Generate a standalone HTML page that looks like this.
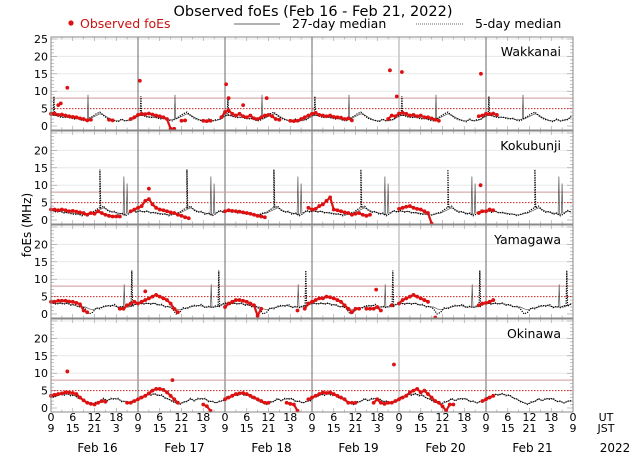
<!DOCTYPE html>
<html><head><meta charset="utf-8"><style>
body{margin:0;background:#fff;width:640px;height:457px;overflow:hidden}
svg{font-family:"DejaVu Sans","Liberation Sans",sans-serif}
</style></head><body>
<svg id="chart" width="640" height="457" viewBox="0 0 640 457" xmlns="http://www.w3.org/2000/svg">
<text x="313" y="16" font-size="14.5" text-anchor="middle">Observed foEs (Feb 16 - Feb 21, 2022)</text>
<g>
<circle cx="71" cy="23" r="2.6" fill="#d11"/>
<text x="80" y="28" font-size="12.5" fill="#c11">Observed foEs</text>
<line x1="234" y1="24" x2="280" y2="24" stroke="#333" stroke-width="0.8"/>
<text x="292" y="28" font-size="12.5">27-day median</text>
<line x1="416" y1="24" x2="463" y2="24" stroke="#333" stroke-width="0.8" stroke-dasharray="1 1"/>
<text x="475" y="28" font-size="12.5">5-day median</text>
</g>
<text transform="translate(31,225) rotate(-90)" font-size="12" text-anchor="middle">foEs (MHz)</text>
<g id="panels"></g>
<g id="xaxis"></g>
</svg>
<script>
const stations = ["Wakkanai","Kokubunji","Yamagawa","Okinawa"];
const dayLabels = ["Feb 16","Feb 17","Feb 18","Feb 19","Feb 20","Feb 21"];
const utTicks = ["0","6","12","18","0","6","12","18","0","6","12","18","0","6","12","18","0","6","12","18","0","6","12","18","0"];
const jstTicks = ["9","15","21","3","9","15","21","3","9","15","21","3","9","15","21","3","9","15","21","3","9","15","21","3","9"];
const yTicks = [0,5,10,15,20,25];
const thresholdSolid = [8,8,8,8];
const thresholdDotted = [5,5,5,5];
const n = null;
const obsWakkanai = [
3.5,3.6,3.2,3.3,3.0,2.8,2.6,2.5,2.2,2.0,1.6,1.8,n,n,n,n,1.8,1.6,n,n,n,n,2.0,2.5,
3.2,3.5,3.4,3.6,3.3,3.0,2.8,2.5,2.0,-0.8,-0.8,n,1.5,1.6,n,n,n,n,1.5,1.4,1.5,n,n,2.5,
4.0,4.5,3.5,3.0,3.5,2.8,2.5,3.0,2.2,2.0,2.5,3.0,3.2,2.8,2.0,1.8,n,n,1.5,1.4,1.5,2.0,2.5,3.0,
3.5,3.8,3.2,3.0,2.8,3.0,2.6,2.5,2.4,2.0,2.2,1.6,n,n,n,n,n,n,n,n,n,2.0,3.0,2.8,
3.6,3.8,3.5,3.0,3.2,2.8,3.0,2.5,2.5,2.2,1.8,1.5,n,n,n,n,n,n,n,n,n,n,2.8,3.0,
3.5,3.4,3.6,3.2,n,n,n,n,n,n,n,n,n,n,n,n,n,n,n,n,n,n,n,n];
const obsKokubunji = [
3.0,3.0,2.8,3.0,2.8,2.5,2.6,2.4,2.2,2.0,1.5,2.0,1.8,2.5,2.0,1.5,1.2,1.0,1.0,1.0,n,n,2.5,3.0,
3.5,4.0,5.5,6.0,4.5,3.5,3.0,2.8,2.5,2.2,2.0,1.5,1.2,0.8,0.5,n,n,n,n,n,n,n,n,n,
2.5,2.8,2.6,2.5,2.4,2.2,2.0,1.8,1.5,1.2,1.0,0.8,n,n,n,n,n,n,n,n,n,n,n,3.5,
3.0,3.2,4.0,4.5,5.5,6.5,3.0,2.8,2.5,2.2,2.0,1.5,1.8,2.0,1.5,1.2,1.5,n,n,n,n,n,n,n,
3.2,3.5,3.8,4.0,3.5,3.2,3.0,2.5,2.0,-1.0,n,n,n,n,n,n,n,n,n,n,n,n,2.0,2.5,
2.5,3.0,2.8,n,n,n,n,n,n,n,n,n,n,n,n,n,n,n,n,n,n,n,n,n];
const obsYamagawa = [
3.5,3.5,3.8,3.8,3.8,3.6,3.5,3.2,2.8,1.0,0.5,n,n,n,n,n,n,n,n,1.5,1.5,2.5,3.0,3.5,
3.0,3.5,4.0,4.5,5.0,5.5,5.0,4.5,4.0,3.0,1.5,0.5,n,n,n,n,n,n,n,n,n,n,n,n,
2.0,3.0,3.5,4.0,4.0,3.8,3.5,3.0,2.5,-0.5,1.5,n,n,n,n,n,n,n,n,n,1.0,n,1.5,3.0,
3.5,4.0,4.5,4.5,5.0,4.8,4.5,4.0,3.5,2.5,1.5,0.5,1.5,1.5,n,1.5,1.5,1.5,2.0,1.0,n,n,2.5,n,
3.0,4.0,4.5,5.0,5.5,5.0,4.5,4.0,3.5,n,-1.0,n,n,n,n,n,n,n,n,n,n,n,2.5,3.0,
3.2,3.5,4.0,n,n,n,n,n,n,n,n,n,n,n,n,n,n,n,n,n,n,n,n,n];
const obsOkinawa = [
3.5,3.8,4.0,4.2,4.5,4.5,4.3,4.0,3.0,2.2,1.5,1.2,1.0,1.5,2.0,1.8,n,n,n,n,n,1.5,1.5,2.0,
2.5,3.0,3.5,4.2,5.0,5.5,5.5,5.2,4.5,3.5,2.5,1.5,n,n,n,n,n,n,1.0,0.5,-0.8,n,n,n,
2.5,3.0,3.5,4.0,4.2,4.3,4.0,3.5,3.0,2.5,2.0,1.5,1.5,n,n,n,n,1.5,1.2,1.0,-0.8,n,n,2.5,
3.0,3.5,4.0,4.5,4.3,4.5,4.0,3.5,3.0,2.5,1.5,1.5,1.5,n,n,n,n,1.5,2.5,1.5,1.2,1.5,1.5,2.0,
2.5,3.0,3.5,4.5,5.0,5.5,4.5,5.0,4.0,3.0,2.0,1.5,0.5,-0.8,1.0,1.0,n,n,n,n,n,n,n,2.0,
2.5,3.0,3.5,n,n,n,n,n,n,n,n,n,n,n,n,n,n,n,n,n,n,n,n,n];
const outlierHours = [[4.5,2,2.7,24.5,48.3,49,53,59.5,93.5,95.4,96.8,118.6],[27,118.5],[26,89.7],[4.5,33.5,94.6]];
const outlierValues = [[11,6,6.5,13,12,8,6,8,16,8.5,15.5,15],[9,10],[6.5,7],[10.5,8,12.5]];
const med27 = [
[3,3,2.8,2.6,2.5,2.4,2.2,2,1.8,1.8,2,2.5,3,3.5,3.2,2.5,2,1.5,1.5,1.8,1.5,1.5,2,2.5],
[2.5,2.5,2.4,2.2,2,2,1.8,1.6,1.5,1.5,1.8,2,2.5,3,3.5,3,2.5,2.2,2,1.8,1.5,2,2.5,2.5],
[3,3,3,3,3,2.8,2.5,2.2,2,2,1.5,1.2,1.5,1.8,2,2.2,2.5,2.3,2,2,2,2,2.5,2.8],
[3,3.5,3.8,4,4,3.8,3.5,3,2.5,2,1.5,1.2,1.5,2,2.5,2.2,2.5,2.8,2.5,2,1.8,1.5,1.8,2.2]];
const med5 = [
[3.2,3,2.6,2.4,2.6,2.2,2.0,2.2,1.6,1.5,2.2,2.8,3.5,4,3,2.2,1.8,1.6,1.2,2,1.4,1.8,1.8,2.8],
[2.8,2.2,2.6,2,2.2,1.8,1.6,1.8,1.2,1.6,2,2.2,3,3.5,4,2.8,2.2,2.5,1.6,2,1.2,1.8,2.8,2.2],
[3.2,2.8,3.2,2.8,3.2,2.5,2.8,2,2.2,1.5,0,0.5,1.8,1.5,2.2,2.5,2.2,2.8,1.8,2.2,1.8,2.4,2.2,3],
[3.2,3.3,4,3.6,4.2,3.5,3.8,2.8,2.6,1.8,1.5,1,1.8,1.8,2.8,2,2.8,2.5,2.8,1.8,2,1.4,2,2]];
const spike27Hours = [[10.2],[20.1,21],[20.2],[]];
const spike27Values = [[9],[12.5,10.5],[8.5],[]];
const spike5Hours = [[0.8],[13.5],[22.3],[]];
const spike5Values = [[8.5],[14.5],[12.5],[]];
const observed = [obsWakkanai,obsKokubunji,obsYamagawa,obsOkinawa];

const NS="http://www.w3.org/2000/svg";
const X0=51, X1=573, DAYW=87, PTOP=37, PH=94, PHH=93, PXU=3.48;
function xs(h){return X0+h*DAYW/24;}
function ys(p,v){return PTOP+p*PH+89-v*PXU;}
function mk(tag,attrs,parent){const e=document.createElementNS(NS,tag);for(const k in attrs)e.setAttribute(k,attrs[k]);parent.appendChild(e);return e;}
const panels=document.getElementById('panels');
stations.forEach((st,p)=>{
  const g=mk('g',{},panels);
  
  
  const top=PTOP+p*PH, bot=top+PHH;
  [10,15,20,25].forEach(v=>{if(ys(p,v)>top+1)mk('line',{x1:X0,x2:X1,y1:ys(p,v),y2:ys(p,v),stroke:'#e8e8e8','stroke-width':1},g);});
  for(let v=-1;v<=25;v++){const y=ys(p,v);if(y<top+1||y>bot-1)continue;const L=(v%5===0)?6:3;
    mk('line',{x1:X0,x2:X0+L,y1:y,y2:y,stroke:'#999','stroke-width':0.6},g);
    mk('line',{x1:X1-L,x2:X1,y1:y,y2:y,stroke:'#999','stroke-width':0.6},g);}
  for(let h=0;h<=144;h+=3){const x=xs(h);const L=(h%6===0)?4:2.5;
    mk('line',{x1:x,x2:x,y1:bot,y2:bot-L,stroke:'#999','stroke-width':0.6},g);
    mk('line',{x1:x,x2:x,y1:top,y2:top+L,stroke:'#999','stroke-width':0.6},g);}
  for(let d=1;d<6;d++){const x=xs(d*24);mk('line',{x1:x,x2:x,y1:top,y2:bot,stroke:d===4?'#c8c8c8':'#6a6a6a','stroke-width':d===4?1.6:1},g);}
  let t=mk('line',{x1:X0,x2:X1,y1:ys(p,thresholdSolid[p]),y2:ys(p,thresholdSolid[p]),stroke:'#c99','stroke-width':1},g);
  
  
  t=mk('line',{x1:X0,x2:X1,y1:ys(p,thresholdDotted[p]),y2:ys(p,thresholdDotted[p]),stroke:'#c22','stroke-width':1,'stroke-dasharray':'1.5 1.5'},g);
  
  
  function medPath(prof,sh,sv){let pts=[];for(let d=0;d<6;d++){let arr=[];prof.forEach((v,h)=>arr.push([d*24+h+0.5,v]));
      sh.forEach((hh,i)=>{arr.push([d*24+hh-0.2,prof[Math.floor(hh)]]);arr.push([d*24+hh,sv[i]]);arr.push([d*24+hh+0.2,prof[Math.floor(hh)]]);});
      arr.sort((a,b)=>a[0]-b[0]);pts=pts.concat(arr);}
    return 'M'+pts.map(q=>xs(q[0]).toFixed(1)+','+ys(p,q[1]).toFixed(1)).join('L');}
  let m=mk('path',{d:medPath(med27[p],spike27Hours[p],spike27Values[p]),fill:'none',stroke:'#555','stroke-width':0.7},g);
  
  
  m=mk('path',{d:medPath(med5[p],spike5Hours[p],spike5Values[p]),fill:'none',stroke:'#000','stroke-width':1.2,'stroke-dasharray':'1.2 1.2'},g);
  
  
  const obs=observed[p];
  for(let i=0;i<obs.length;i++){if(obs[i]===null)continue;
    if(i+1<obs.length&&obs[i+1]!==null){const l=mk('line',{x1:xs(i),y1:ys(p,obs[i]),x2:xs(i+1),y2:ys(p,obs[i+1]),stroke:'#d11','stroke-width':2.2,'stroke-linecap':'round','stroke-dasharray':'2.5 1'},g);
      
      }
    const c=mk('circle',{cx:xs(i),cy:ys(p,obs[i]),r:1.9,fill:'#d11'},g);
    
    }
  outlierHours[p].forEach((h,i)=>{const c=mk('circle',{cx:xs(h),cy:ys(p,outlierValues[p][i]),r:1.9,fill:'#d11'},g);
    
    });
  mk('rect',{x:X0,y:top,width:X1-X0,height:PHH,fill:'none',stroke:'#888','stroke-width':1},g);
  yTicks.forEach(v=>{if(v===25&&p>0)return;const tx=mk('text',{x:48,y:ys(p,v)+4,'font-size':11,'text-anchor':'end'},g);tx.textContent=v;
    
    });
  const lab=mk('text',{x:561,y:top+19,'font-size':12.5,'text-anchor':'end'},g);lab.textContent=st;
  
  
});
const xa=document.getElementById('xaxis');
utTicks.forEach((t,i)=>{const x=xs(i*6);
  let e=mk('text',{x:x,y:421,'font-size':11,'text-anchor':'middle'},xa);e.textContent=t;
  
  
  e=mk('text',{x:x,y:432,'font-size':11,'text-anchor':'middle'},xa);e.textContent=jstTicks[i];
  
  });
dayLabels.forEach((d,i)=>{const e=mk('text',{x:xs(i*24+12)+3,y:452,'font-size':12,'text-anchor':'middle'},xa);e.textContent=d;
  
  });
[['UT',606,421],['JST',606,432],['2022',615,452]].forEach(a=>{const e=mk('text',{x:a[1],y:a[2],'font-size':a[0]==='2022'?12:11,'text-anchor':'middle'},xa);e.textContent=a[0];
  
  });
</script>
</body></html>
